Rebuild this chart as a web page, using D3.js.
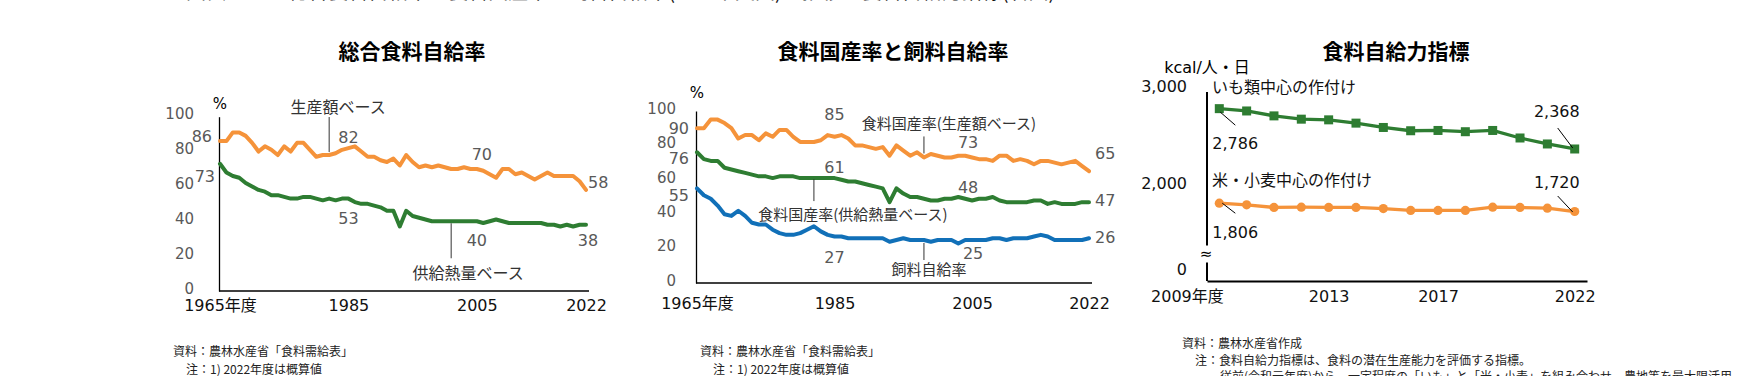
<!DOCTYPE html>
<html lang="ja">
<head>
<meta charset="utf-8">
<script src="https://cdn.jsdelivr.net/npm/d3@7"></script>
<style>
  html, body { margin: 0; padding: 0; background: #fff; }
  svg { display: block; }
  .num { font-family: "DejaVu Sans", "Noto Sans CJK JP", sans-serif; }
  .jp { font-family: "Noto Sans CJK JP", sans-serif; }
</style>
</head>
<body>
<svg id="chart" width="1755" height="376"></svg>
<script>
// ---- data ----
const years1 = d3.range(1965, 2023);

// 総合食料自給率
const selfSuffProduction = [86,86,91,91,89,85,80,83,81,78,83,80,85,85,81,77,78,78,79,81,
  82,83,80,77,77,75,74,76,72,78,74,71,72,71,72,71,70,70,71,70,
  70,69,67,65,70,70,67,68,66,64,66,68,66,66,66,66,63,58];
const selfSuffCalorie = [73,68,66,65,62,60,58,57,55,55,54,53,53,54,54,53,52,53,52,53,
  53,51,50,50,49,48,46,46,37,46,43,42,41,40,40,40,40,40,40,40,
  40,39,40,41,40,39,39,39,39,39,39,38,38,37,38,37,38,38];

// 食料国産率と飼料自給率
const domesticProduction = [90,90,95,95,93,90,84,86,86,83,87,85,89,89,85,82,82,82,83,86,
  85,86,84,80,80,79,78,79,74,80,77,74,76,73,75,74,73,73,74,74,
  73,72,72,71,74,74,71,72,71,69,71,71,70,69,70,71,68,65];
const domesticCalorie = [76,72,71,71,67,66,65,64,63,62,62,61,62,62,62,61,61,61,61,61,
  61,60,59,59,58,57,56,55,47,55,52,50,50,49,48,48,49,49,50,49,
  48,49,49,50,48,47,47,47,47,48,48,46,47,46,46,46,47,47];
const feedSelfSuff = [55,51,49,45,40,39,42,39,35,34,34,31,29,28,28,29,31,33,30,28,
  27,27,26,26,26,26,26,26,24,25,26,25,25,25,24,25,25,25,23,25,
  25,25,25,26,26,25,26,26,26,27,28,27,25,25,25,25,25,26];

// 食料自給力指標
const years3 = d3.range(2009, 2023);
const potatoCropping = [2786,2762,2711,2677,2670,2636,2591,2557,2560,2547,2560,2482,2420,2368];
const riceWheatCropping = [1806,1789,1762,1765,1762,1762,1751,1731,1731,1731,1765,1762,1755,1720];

// ticks
const xTicksLong = [1965, 1985, 2005, 2022];
const xTickLabelsLong = ["1965年度", "1985", "2005", "2022"];
const yTicksPct = [0, 20, 40, 60, 80, 100];
const xTicks3 = [2009, 2013, 2017, 2022];
const xTickLabels3 = ["2009年度", "2013", "2017", "2022"];
const yTicks3 = [0, 2000, 3000];
const yTickLabels3 = ["0", "2,000", "3,000"];

const ORANGE = "#F5933A", GREEN = "#2E7D32", BLUE = "#1170B8";
const GREY = "#595959", DARK = "#333";

const svg = d3.select("#chart");
svg.append("rect").attr("width", 1755).attr("height", 376).attr("fill", "#fff");

// cropped page heading, only its lower edge shows
svg.append("text").attr("class", "jp")
  .attr("x", 186).attr("y", -1)
  .attr("font-size", 20).attr("fill", "#111")
  .text("図表1－1　総合食料自給率と食料国産率、飼料自給率(左・中央図)の推移と食料自給力指標(右図)");

function addText(g, o) {
  return g.append("text")
    .attr("class", o.cls || "num")
    .attr("x", o.x).attr("y", o.y).attr("dy", "0.35em")
    .attr("text-anchor", o.anchor || "middle")
    .attr("font-size", o.size || 16)
    .attr("font-weight", o.weight || 400)
    .attr("fill", o.fill || "#000")
    .text(o.text);
}

// ---- percentage charts (left and middle) ----
function drawPctChart(opt) {
  const g = svg.append("g");
  const x = d3.scaleLinear().domain([1965, 2022]).range(opt.xRange);
  const y = d3.scaleLinear().domain([0, 100]).range(opt.yRange);

  addText(g, { text: opt.title, x: opt.titleX, y: 52, size: 21, weight: 700, cls: "jp" });

  // y axis
  const yAxis = g.append("g")
    .attr("transform", `translate(${opt.xRange[0] - 1},0)`)
    .call(d3.axisLeft(y).tickValues(yTicksPct).tickSize(0).tickSizeOuter(0).tickPadding(opt.yPad));
  yAxis.select(".domain").attr("stroke", "#000").attr("stroke-width", 1.3);
  yAxis.selectAll("text")
    .attr("class", "num").attr("font-size", 15).attr("fill", GREY)
    .attr("y", -3).attr("dy", "0.35em");

  // x axis
  const xAxis = g.append("g")
    .attr("transform", `translate(0,${y(0)})`)
    .call(d3.axisBottom(x).tickValues(xTicksLong).tickFormat((d, i) => xTickLabelsLong[i])
      .tickSize(0).tickSizeOuter(0));
  xAxis.select(".domain").attr("stroke", "#000").attr("stroke-width", 1.3)
    .attr("d", `M${opt.xRange[0] - 1},0H${opt.xRange[1] + 3}`);
  xAxis.selectAll("text")
    .attr("class", "num").attr("font-size", 16).attr("fill", "#111")
    .attr("y", opt.xLabelOffset).attr("dy", "0.35em");

  addText(g, { text: "%", x: opt.xRange[0], y: y(100) + opt.pctOffset, size: 15 });

  const line = d3.line().x((d, i) => x(years1[i])).y(d => y(d));
  opt.series.forEach(s => {
    g.append("path").datum(s.values)
      .attr("fill", "none").attr("stroke", s.color).attr("stroke-width", 4)
      .attr("stroke-linejoin", "round").attr("stroke-linecap", "round")
      .attr("d", line);
  });

  opt.leaders.forEach(l => {
    g.append("line")
      .attr("x1", x(l.year)).attr("x2", x(l.year))
      .attr("y1", y(l.value) + l.from).attr("y2", y(l.value) + l.to)
      .attr("stroke", DARK).attr("stroke-width", 1);
  });

  opt.labels.forEach(a => {
    addText(g, {
      text: a.text, x: x(a.year) + a.dx, y: y(a.value) + a.dy,
      anchor: a.anchor, size: a.jp ? opt.jpSize : 16,
      fill: a.jp ? DARK : GREY, cls: a.jp ? "jp" : "num"
    });
  });
}

drawPctChart({
  title: "総合食料自給率", titleX: 412, jpSize: 16,
  xRange: [220, 586], yRange: [291, 116.7], yPad: 25, xLabelOffset: 14, pctOffset: -13,
  series: [
    { values: selfSuffProduction, color: ORANGE },
    { values: selfSuffCalorie, color: GREEN }
  ],
  leaders: [
    { year: 1982, value: 78, from: -3, to: -38 },
    { year: 2001, value: 40, from: 2, to: 37 }
  ],
  labels: [
    { text: "86", year: 1965, value: 86, dx: -8, dy: -5, anchor: "end" },
    { text: "73", year: 1965, value: 73, dx: -5, dy: 13, anchor: "end" },
    { text: "82", year: 1985, value: 82, dx: 0, dy: -11 },
    { text: "70", year: 2005, value: 70, dx: 5, dy: -15 },
    { text: "58", year: 2022, value: 58, dx: 2, dy: -8, anchor: "start" },
    { text: "53", year: 1985, value: 53, dx: 0, dy: 20 },
    { text: "40", year: 2005, value: 40, dx: 0, dy: 19 },
    { text: "38", year: 2022, value: 38, dx: 2, dy: 16 },
    { text: "生産額ベース", year: 1982, value: 78, dx: 9, dy: -48, jp: true },
    { text: "供給熱量ベース", year: 2001, value: 40, dx: 17, dy: 52, jp: true }
  ]
});

drawPctChart({
  title: "食料国産率と飼料自給率", titleX: 893, jpSize: 15,
  xRange: [697, 1089], yRange: [283, 111], yPad: 20, xLabelOffset: 20, pctOffset: -18,
  series: [
    { values: domesticProduction, color: ORANGE },
    { values: domesticCalorie, color: GREEN },
    { values: feedSelfSuff, color: BLUE }
  ],
  leaders: [
    { year: 1998, value: 73, from: -4, to: -21 },
    { year: 1982, value: 61, from: 1, to: 23 },
    { year: 1998, value: 25, from: 3, to: 20 }
  ],
  labels: [
    { text: "90", year: 1965, value: 90, dx: -8, dy: 0, anchor: "end" },
    { text: "76", year: 1965, value: 76, dx: -8, dy: 6, anchor: "end" },
    { text: "55", year: 1965, value: 55, dx: -8, dy: 7, anchor: "end" },
    { text: "85", year: 1985, value: 85, dx: 0, dy: -22 },
    { text: "73", year: 2005, value: 73, dx: -4, dy: -15 },
    { text: "65", year: 2022, value: 65, dx: 6, dy: -18, anchor: "start" },
    { text: "61", year: 1985, value: 61, dx: 0, dy: -11 },
    { text: "48", year: 2005, value: 48, dx: -4, dy: -13 },
    { text: "47", year: 2022, value: 47, dx: 6, dy: -2, anchor: "start" },
    { text: "27", year: 1985, value: 27, dx: 0, dy: 21 },
    { text: "25", year: 2005, value: 25, dx: 1, dy: 13 },
    { text: "26", year: 2022, value: 26, dx: 6, dy: -1, anchor: "start" },
    { text: "食料国産率(生産額ベース)", year: 1998, value: 73, dx: 25, dy: -34, jp: true },
    { text: "食料国産率(供給熱量ベース)", year: 1982, value: 61, dx: 39, dy: 37, jp: true },
    { text: "飼料自給率", year: 1998, value: 25, dx: 5, dy: 30, jp: true }
  ]
});

// ---- 食料自給力指標 (right) ----
(function drawCapacityChart() {
  const g = svg.append("g");
  const axisX = 1207;
  const x = d3.scalePoint().domain(years3).range([axisX, 1587]).padding(0.45);
  // broken axis: 0 at the bottom, 1400-3000 linear above the break
  const y = d3.scaleLinear().domain([0, 1400, 3000]).range([281, 242.4, 88]);

  addText(g, { text: "食料自給力指標", x: 1396, y: 52, size: 21, weight: 700, cls: "jp" });

  // y axis with break
  g.append("line").attr("x1", axisX).attr("x2", axisX)
    .attr("y1", y(3000) + 4).attr("y2", y(1400) + 3)
    .attr("stroke", "#000").attr("stroke-width", 2);
  g.append("line").attr("x1", axisX).attr("x2", axisX)
    .attr("y1", y(1400) + 20).attr("y2", y(0))
    .attr("stroke", "#000").attr("stroke-width", 2);
  addText(g, { text: "≈", x: axisX - 1, y: y(1400) + 11, size: 15 });

  const yAxis = g.append("g").attr("transform", `translate(${axisX},0)`)
    .call(d3.axisLeft(y).tickValues(yTicks3).tickFormat((d, i) => yTickLabels3[i])
      .tickSize(0).tickSizeOuter(0).tickPadding(20));
  yAxis.select(".domain").remove();
  yAxis.selectAll("text")
    .attr("class", "num").attr("font-size", 16).attr("fill", "#111")
    .attr("y", d => d === 0 ? -12 : -2).attr("dy", "0.35em");

  // x axis
  const xAxis = g.append("g").attr("transform", `translate(0,${y(0)})`)
    .call(d3.axisBottom(x).tickValues(xTicks3).tickFormat((d, i) => xTickLabels3[i])
      .tickSize(0).tickSizeOuter(0));
  xAxis.select(".domain").attr("stroke", "#000").attr("stroke-width", 2);
  xAxis.selectAll("text")
    .attr("class", "num").attr("font-size", 16).attr("fill", "#111")
    .attr("y", 15).attr("dy", "0.35em")
    .attr("text-anchor", (d, i) => i === 0 ? "end" : "middle")
    .attr("x", (d, i) => i === 0 ? 4 : 0);

  addText(g, { text: "kcal/人・日", x: axisX, y: y(3000) - 21, size: 16 });
  addText(g, { text: "いも類中心の作付け", x: axisX + 5, y: y(3000) - 1, anchor: "start", size: 16, cls: "jp", fill: "#111" });
  addText(g, { text: "米・小麦中心の作付け", x: axisX + 5, y: y(2000) - 4, anchor: "start", size: 16, cls: "jp", fill: "#111" });

  const line = d3.line().x((d, i) => x(years3[i])).y(d => y(d));

  g.append("path").datum(potatoCropping)
    .attr("fill", "none").attr("stroke", GREEN).attr("stroke-width", 3.3).attr("d", line);
  g.selectAll(".sq").data(potatoCropping).enter().append("rect")
    .attr("x", (d, i) => x(years3[i]) - 4.5).attr("y", d => y(d) - 4.5)
    .attr("width", 9).attr("height", 9).attr("fill", GREEN);

  g.append("path").datum(riceWheatCropping)
    .attr("fill", "none").attr("stroke", ORANGE).attr("stroke-width", 3.3).attr("d", line);
  g.selectAll(".dot").data(riceWheatCropping).enter().append("circle")
    .attr("cx", (d, i) => x(years3[i])).attr("cy", d => y(d))
    .attr("r", 4.6).attr("fill", ORANGE);

  const first = years3[0], last = years3[years3.length - 1];
  const callouts = [
    { text: "2,786", year: first, value: potatoCropping[0], dx: -7, dy: 35, anchor: "start", l: [1, 3.5, 16, 16.5] },
    { text: "2,368", year: last, value: potatoCropping[potatoCropping.length - 1], dx: 5, dy: -38, anchor: "end", l: [-17, -21, -2, -1] },
    { text: "1,806", year: first, value: riceWheatCropping[0], dx: -7, dy: 29, anchor: "start", l: [3, 0, 16, 10] },
    { text: "1,720", year: last, value: riceWheatCropping[riceWheatCropping.length - 1], dx: 5, dy: -29.5, anchor: "end", l: [-17, -15.5, -2, 0.5] }
  ];
  callouts.forEach(c => {
    const px = x(c.year), py = y(c.value);
    g.append("line")
      .attr("x1", px + c.l[0]).attr("y1", py + c.l[1])
      .attr("x2", px + c.l[2]).attr("y2", py + c.l[3])
      .attr("stroke", "#000").attr("stroke-width", 1);
    addText(g, { text: c.text, x: px + c.dx, y: py + c.dy, anchor: c.anchor, size: 16, fill: "#111" });
  });
})();

// ---- source notes ----
const notes = [
  { x: 173, y: 352, t: "資料：農林水産省「食料需給表」" },
  { x: 186, y: 370, t: "注：1) 2022年度は概算値" },
  { x: 700, y: 352, t: "資料：農林水産省「食料需給表」" },
  { x: 713, y: 370, t: "注：1) 2022年度は概算値" },
  { x: 1182, y: 344, t: "資料：農林水産省作成" },
  { x: 1195, y: 361, t: "注：食料自給力指標は、食料の潜在生産能力を評価する指標。" },
  { x: 1220, y: 377, t: "従前(令和元年度)から、一定程度の「いも」と「米・小麦」を組み合わせ、農地等を最大限活用" }
];
notes.forEach(n => addText(svg, { text: n.t, x: n.x, y: n.y, anchor: "start", size: 12, cls: "jp", fill: "#222" }));
</script>
</body>
</html>
